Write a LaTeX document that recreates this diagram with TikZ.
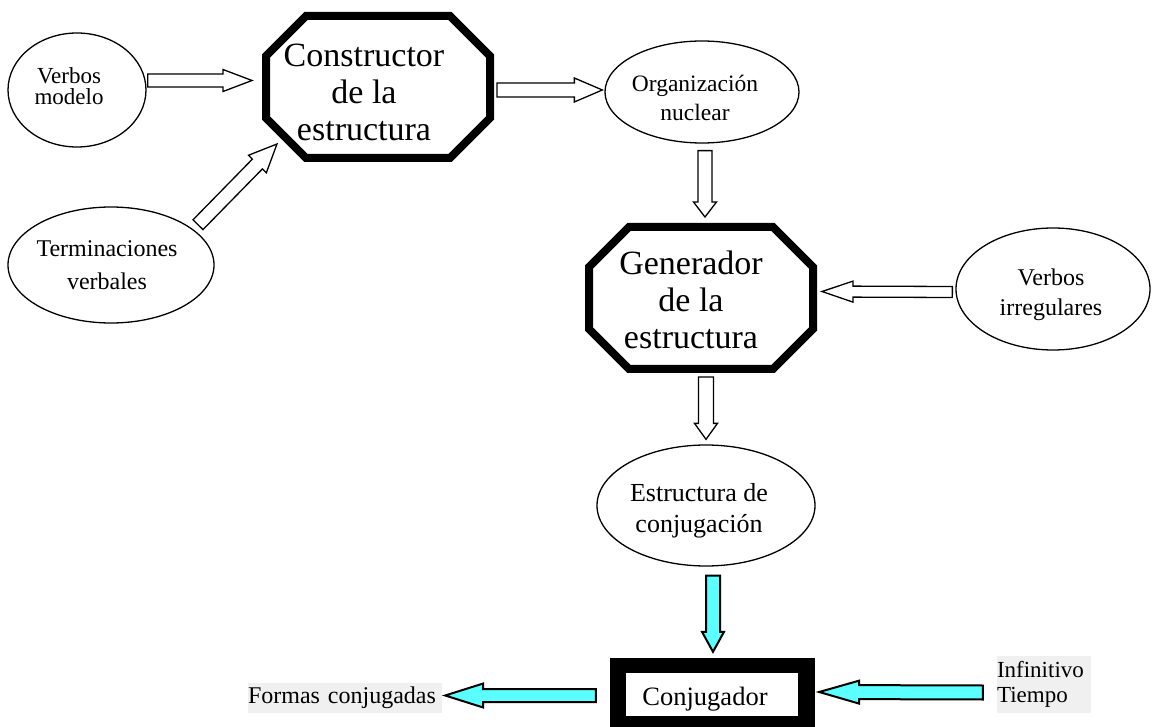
\documentclass[tikz,border=0pt]{standalone}
\usepackage{fontspec}
\setmainfont{Liberation Serif}
\usepackage{tikz}
\usetikzlibrary{shapes.geometric, calc, backgrounds}
\definecolor{cian}{HTML}{5CFFFF}
\definecolor{gris}{HTML}{F0F0F0}
\tikzset{
    elipse/.style={ellipse, draw, line width=1.3pt, inner sep=0pt},
    texto/.style={align=center, inner sep=0pt},
    octbox/.style={rectangle, inner sep=0pt, outer sep=0pt, minimum width=224pt, minimum height=142pt},
    borde/.style={line width=8pt, line join=miter},
    bloque/.style={draw, fill=white, line width=1.3pt, line join=miter},
    bloquecian/.style={bloque, fill=cian, line width=2pt},
    fondo/.style={fill=gris, inner sep=0pt, align=left},
}
% octogono alrededor de un nodo
\newcommand{\octagono}[2]{%
    \draw[borde] ([xshift=#2]#1.north west) -- ([xshift=-#2]#1.north east)
        -- ([yshift=-#2]#1.north east) -- ([yshift=#2]#1.south east)
        -- ([xshift=-#2]#1.south east) -- ([xshift=#2]#1.south west)
        -- ([yshift=#2]#1.south west) -- ([yshift=-#2]#1.north west) -- cycle;
}
% flecha de bloque: [estilo]{desde}{hasta}{medio ancho}{medio ancho punta}{largo punta}
\newcommand{\flecha}[6][]{%
    \coordinate (fa) at (#2);
    \coordinate (fb) at (#3);
    \coordinate (fh) at ($(fb)!#6!(fa)$);
    \filldraw[bloque, #1] ($(fa)!#4!90:(fb)$) -- ($(fh)!#4!90:(fb)$) -- ($(fh)!#5!90:(fb)$)
        -- (fb) -- ($(fh)!#5!-90:(fb)$) -- ($(fh)!#4!-90:(fb)$) -- ($(fa)!#4!-90:(fb)$) -- cycle;
}
\begin{document}
\begin{tikzpicture}[x=1pt, y=-1pt]
\useasboundingbox (0,0) rectangle (1152,727);
% nodos
\node[elipse, minimum width=138pt, minimum height=114pt] (vm) at (77,90) {};
\node[texto, font=\fontsize{23}{21}\selectfont] (vmT) at (69,86) {Verbos\\modelo};
\node[elipse, minimum width=206pt, minimum height=116pt] (term) at (111,265) {};
\node[texto, font=\fontsize{24}{33}\selectfont] (termT) at (107,265) {Terminaciones\\verbales};
\node[octbox] (cons) at (378,87) {};
\node[texto, font=\fontsize{34}{37}\selectfont] (consT) at (364,92) {Constructor\\de la\\estructura};
\node[elipse, minimum width=194pt, minimum height=102pt] (org) at (702,92) {};
\node[texto, font=\fontsize{23.5}{29}\selectfont] (orgT) at (695,98) {Organización\\nuclear};
\node[octbox] (gen) at (701,298) {};
\node[texto, font=\fontsize{34}{37}\selectfont] (genT) at (691,300) {Generador\\de la\\estructura};
\node[elipse, minimum width=194pt, minimum height=122pt] (virr) at (1053,289) {};
\node[texto, font=\fontsize{24}{30}\selectfont] (virrT) at (1051,295) {Verbos\\irregulares};
\node[elipse, minimum width=218pt, minimum height=121pt] (estr) at (706,505.5) {};
\node[texto, font=\fontsize{26}{31}\selectfont] (estrT) at (699,510.5) {Estructura de\\conjugación};
\node[fill=white, inner sep=0pt, minimum width=172pt, minimum height=43pt] (conj) at (712,694.5) {};
\node[texto, font=\fontsize{26.5}{30}\selectfont] (conjT) at (705,699) {Conjugador};
\node[fondo, text width=194pt, minimum height=30pt, font=\fontsize{24}{28}\selectfont] (formas) at (345,698) {Formas conjugadas};
\node[fondo, text width=94pt, minimum height=57pt, font=\fontsize{23}{25}\selectfont] (inf) at (1044,684.5) {Infinitivo\\Tiempo};
\begin{scope}[on background layer]
\fill ([shift={(-16,-15)}]conj.north west) rectangle ([shift={(17,11)}]conj.south east);
\end{scope}
\octagono{cons}{40pt}
\octagono{gen}{40pt}
% flechas
\flecha{[shift={(1,-9.5)}]vm.east}{[shift={(-14,-6.5)}]cons.west}{6.5pt}{11pt}{29pt}
\flecha{[shift={(7,-3)}]term.25}{[shift={(11,-14)}]cons.south west}{7pt}{12.5pt}{28pt}
\flecha{[shift={(7,3)}]cons.east}{[shift={(-2,-2)}]org.west}{7pt}{12pt}{28pt}
\flecha{[shift={(3,7)}]org.south}{[shift={(4,-10)}]gen.north}{7pt}{11.5pt}{15pt}
\flecha{[shift={(-3,3)}]virr.west}{[shift={(9,-6.5)}]gen.east}{5.5pt}{10.5pt}{31pt}
\flecha{[shift={(5,8)}]gen.south}{[shift={(0,-5)}]estr.north}{7.5pt}{11.5pt}{16pt}
\flecha[bloquecian]{[shift={(7,9)}]estr.south}{[shift={(1,-21)}]conj.north}{7pt}{11pt}{20pt}
\flecha[bloquecian]{[shift={(-30,1)}]conj.west}{[shift={(3,-2.5)}]formas.east}{6.5pt}{12pt}{38pt}
\flecha[bloquecian]{[shift={(-14,8)}]inf.west}{[shift={(21,-2.5)}]conj.east}{7pt}{11.5pt}{40pt}
\end{tikzpicture}
\end{document}
